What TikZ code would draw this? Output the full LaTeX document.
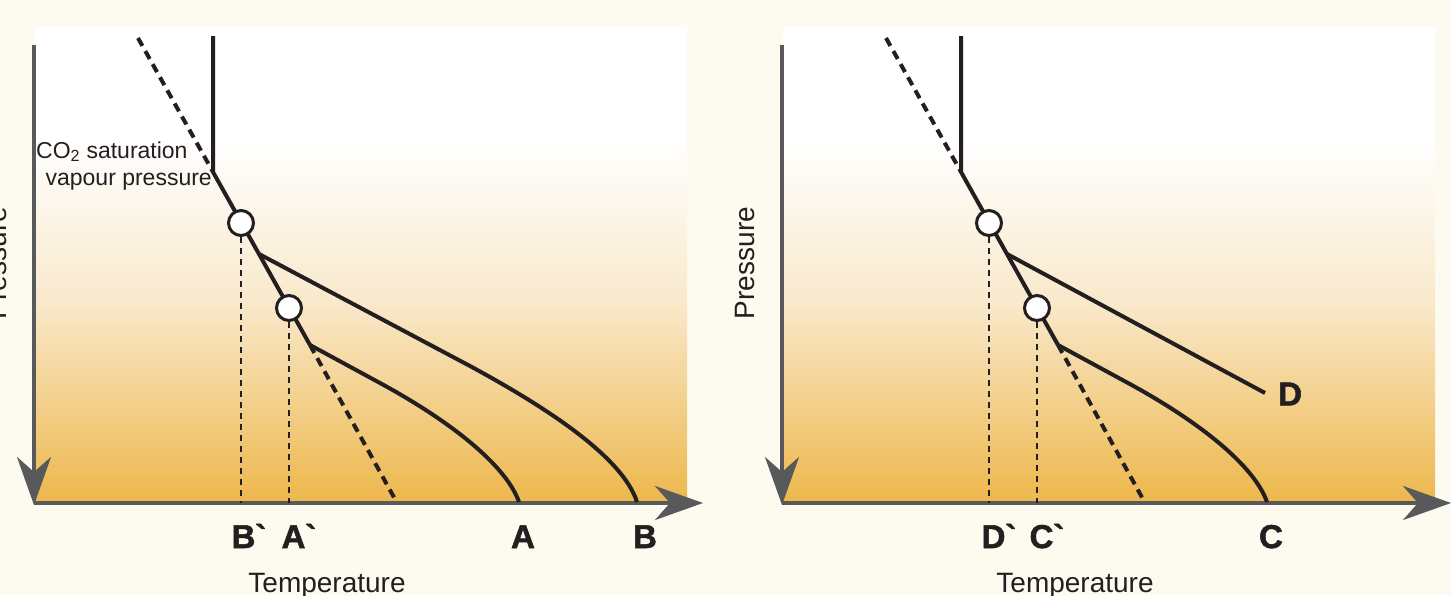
\documentclass[tikz,border=0pt]{standalone}
\usepackage{fontspec}
\setmainfont{Liberation Sans}
\newfontfamily\heavyfont[FakeBold=1.6]{Liberation Sans Bold}
\usetikzlibrary{arrows.meta}

\definecolor{cream}{HTML}{FDFBF0}
\definecolor{ink}{HTML}{231F20}
\definecolor{axisgray}{HTML}{58595B}
\definecolor{peach}{HTML}{F9E9CC}
\definecolor{amber}{HTML}{EDB74B}

\begin{document}
\begin{tikzpicture}[x=1pt,y=-1pt,
  axis/.style={draw=axisgray,line width=4pt,-{Stealth[length=48pt,width=34pt,inset=15pt]}},
  curve/.style={draw=ink,line width=4pt},
  front/.style={draw=ink,line width=4pt,dash pattern=on 9pt off 6pt},
  drop/.style={draw=ink,line width=2.6pt,dash pattern=on 6pt off 5pt},
  dot/.style={circle,draw=ink,fill=white,line width=3pt,minimum size=25pt,inner sep=0pt},
  lab/.style={font=\fontsize{33}{33}\heavyfont,text=ink,anchor=base,inner sep=0pt},
  axlab/.style={font=\fontsize{28}{28}\selectfont,text=ink,anchor=base,inner sep=0pt},
  note/.style={font=\fontsize{23}{23}\selectfont,text=ink,inner sep=0pt}
]
\fill[cream] (0,0) rectangle (1451,595);
\useasboundingbox (0,0) rectangle (1451,595);

% two panels, same frame and same saturation path
\foreach \dx/\p in {0/L,748/R}{
  \fill[white] (35+\dx,27) rectangle (687+\dx,141);
  \shade[top color=white,bottom color=peach] (35+\dx,140) rectangle (687+\dx,301);
  \shade[top color=peach,bottom color=amber] (35+\dx,300) rectangle (687+\dx,503);
  \coordinate (\p-o) at (34+\dx,503);
  \coordinate (\p-ytop) at (34+\dx,45);
  \coordinate (\p-ybot) at (34+\dx,505);
  \coordinate (\p-xend) at (703+\dx,503);
  \draw[axis] (\p-ytop) -- (\p-ybot);
  \draw[axis] (\p-o) -- (\p-xend);
  \node[axlab] (\p-temp) at (327+\dx,592) {Temperature};
  \node[axlab,rotate=90] (\p-pres) at (6+\dx,263) {Pressure};
  \coordinate (\p-dtop) at (138+\dx,38);
  \coordinate (\p-vtop) at (213+\dx,36);
  \coordinate (\p-knee) at (213+\dx,172);
  \coordinate (\p-c1) at (241+\dx,223);
  \coordinate (\p-fork1) at (259+\dx,254);
  \coordinate (\p-c2) at (289+\dx,308);
  \coordinate (\p-fork2) at (310+\dx,345);
  \coordinate (\p-dend) at (396+\dx,501);
  \draw[front] (\p-dtop) -- (\p-knee);
  \draw[curve] (\p-vtop) -- (\p-knee) -- (\p-fork2);
  \draw[front] (\p-fork2) -- (\p-dend);
  \node[dot] (\p-o1) at (\p-c1) {};
  \node[dot] (\p-o2) at (\p-c2) {};
  \draw[drop] (\p-o1) -- (\p-o1 |- \p-o);
  \draw[drop] (\p-o2) -- (\p-o2 |- \p-o);
}

% left panel
\node[note,anchor=base west] (sat1) at (36,158) {CO\textsubscript{2} saturation};
\node[note,anchor=base east] (sat2) at (212,185) {vapour pressure};
\coordinate (Bbend) at (470,366);
\coordinate (Bfoot) at (637,502);
\coordinate (Abend) at (380,383);
\coordinate (Afoot) at (519,502);
\draw[curve] (L-fork1) -- (Bbend) .. controls (540,404) and (622,455) .. (Bfoot);
\draw[curve] (L-fork2) -- (Abend) .. controls (450,421) and (506,465) .. (Afoot);
\node[lab] (labBp) at (249,548) {B\textasciigrave};
\node[lab] (labAp) at (299,548) {A\textasciigrave};
\node[lab] (labA) at (523,548) {A};
\node[lab] (labB) at (645,548) {B};

% right panel
\coordinate (Cbend) at (1128,383);
\coordinate (Cfoot) at (1267,502);
\coordinate (Dend) at (1265,393);
\draw[curve] (R-fork1) -- (Dend);
\draw[curve] (R-fork2) -- (Cbend) .. controls (1198,421) and (1254,465) .. (Cfoot);
\node[lab] (labDp) at (999,548) {D\textasciigrave};
\node[lab] (labCp) at (1047,548) {C\textasciigrave};
\node[lab] (labC) at (1271,548) {C};
\node[lab,anchor=west] (labD) at (1278,394) {D};
\end{tikzpicture}
\end{document}
